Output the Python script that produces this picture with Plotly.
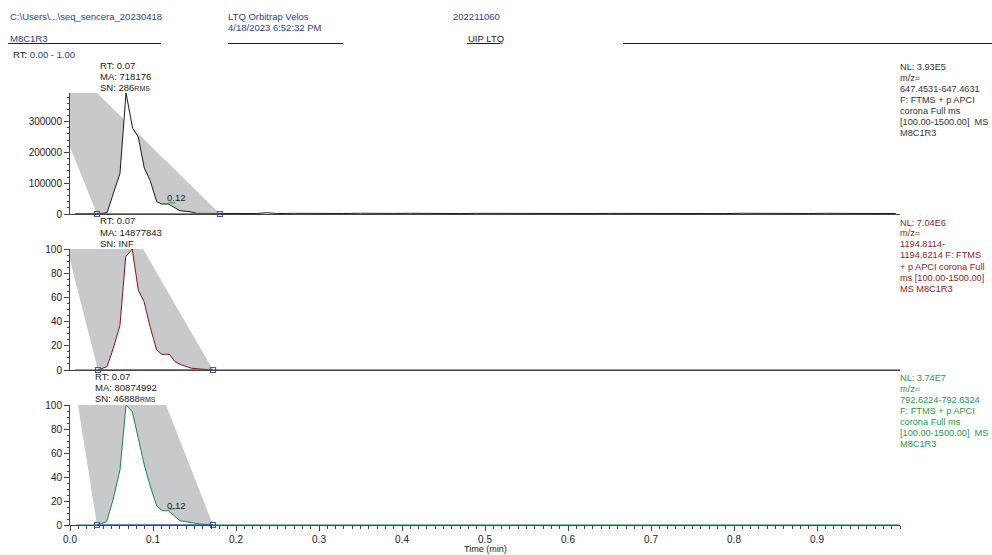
import plotly.graph_objects as go

# ---------------- data ----------------
# Panel 1: m/z 647.4531-647.4631 (absolute intensity)
p1_time = [0.006, 0.020, 0.0337, 0.0446, 0.0602, 0.0675, 0.0755, 0.0823, 0.0895, 0.0964,
           0.1045, 0.1105, 0.1184, 0.1325, 0.1446, 0.1527, 0.1807, 0.195, 0.21, 0.225,
           0.237, 0.25, 0.27, 0.29, 0.31, 0.33, 0.35, 0.37, 0.39, 0.41, 0.43, 0.45,
           0.47, 0.49, 0.51, 0.53, 0.55, 0.57, 0.59, 0.61, 0.63, 0.65, 0.67, 0.69,
           0.71, 0.73, 0.75, 0.77, 0.79, 0.81, 0.83, 0.85, 0.87, 0.89, 0.91, 0.93,
           0.95, 0.97, 0.995]
p1_int = [600, 900, 700, 4200, 132000, 393000, 278000, 250000, 149000, 110000,
          40000, 32500, 32500, 10700, 7500, 2000, 900, 1200, 1800, 1500,
          4200, 1600, 2200, 1400, 2000, 1700, 2400, 1500, 1900, 2300, 1600, 2000,
          1500, 2100, 1800, 1400, 2200, 1900, 1500, 2300, 1700, 2000, 1600, 2200,
          1800, 1500, 2100, 1900, 1400, 2300, 1800, 1600, 2000, 1700, 2200, 1500,
          1900, 1600, 1800]

# Panel 2: m/z 1194.8114-1194.8214 (relative abundance)
p2_time = [0.006, 0.0337, 0.0446, 0.0522, 0.0602, 0.0671, 0.0750, 0.0823, 0.0892, 0.0964,
           0.1045, 0.1105, 0.1197, 0.1265, 0.1346, 0.1466, 0.1723, 1.0]
p2_int = [0, 0, 2.8, 18, 37, 93.6, 100, 66, 56.5, 36, 16.5, 13, 13, 6.9, 4.1, 1.4, 0, 0]

# Panel 3: m/z 792.6224-792.6324 (relative abundance)
p3_time = [0.0072, 0.0341, 0.0442, 0.0522, 0.0602, 0.0675, 0.0751, 0.0895, 0.0964, 0.1045,
           0.1112, 0.1184, 0.1325, 0.1466, 0.1566, 0.1723, 1.0]
p3_int = [0, 0, 2.8, 22, 46, 100, 94.4, 50, 33, 15.8, 11.9, 11.9, 3.6, 1.9, 0.8, 0, 0]

# Integration regions (shaded) : corners (time, intensity)
p1_region_t = [-0.0262, 0.0325, 0.1807, 0.0325, -0.0262]
p1_region_y = [393000, 393000, 0, 0, 393000]
p2_region_t = [-0.0034, 0.088, 0.1723, 0.0337, -0.0034]
p2_region_y = [100, 100, 0, 0, 100]
p3_region_t = [0.0096, 0.1157, 0.1723, 0.0325, 0.0096]
p3_region_y = [100, 100, 0, 0, 100]

# Baselines of detected peaks
p1_base_t = [0.0325, 0.1807]
p2_base_t = [0.0337, 0.1723]
p3_base_t = [0.0325, 0.1723]

# Minor apex markers (RT 0.12)
p1_apex_t = [0.1184, 0.1270]
p1_apex_y = [36000, 36800]
p3_apex_t = [0.1190, 0.1270]
p3_apex_y = [13.3, 13.6]

x_ticks = [0.0, 0.1, 0.2, 0.3, 0.4, 0.5, 0.6, 0.7, 0.8, 0.9]
x_ticktext = ["0.0", "0.1", "0.2", "0.3", "0.4", "0.5", "0.6", "0.7", "0.8", "0.9"]
p1_yticks = [0, 100000, 200000, 300000]
rel_yticks = [0, 20, 40, 60, 80, 100]

# ---------------- styling ----------------
W, H = 992, 555
FONT = "Arial, Liberation Sans, sans-serif"
GRAY = "#c8c9cb"
BLUE = "#3b5caa"
HEAD = "#2c3d8c"
C1, C2, C3 = "#1a1a1a", "#7f1416", "#17874a"
T1, T2, T3 = "#333333", "#8c2323", "#22994d"
APEX = "#33b050"


def px(x):
    return x / W


def py(y):
    return 1 - y / H


fig = go.Figure()

panels = [
    (p1_time, p1_int, p1_region_t, p1_region_y, p1_base_t, C1, "x", "y"),
    (p2_time, p2_int, p2_region_t, p2_region_y, p2_base_t, C2, "x2", "y2"),
    (p3_time, p3_int, p3_region_t, p3_region_y, p3_base_t, C3, "x3", "y3"),
]

for t, v, rt, ry, bt, col, xa, ya in panels:
    fig.add_trace(go.Scatter(x=rt, y=ry, mode="lines", fill="toself", fillcolor=GRAY,
                             line=dict(width=0, color=GRAY), xaxis=xa, yaxis=ya,
                             hoverinfo="skip", showlegend=False))
    fig.add_trace(go.Scatter(x=t, y=v, mode="lines", fill="tozeroy", fillcolor="white",
                             line=dict(width=1, color=col), xaxis=xa, yaxis=ya,
                             showlegend=False))
    fig.add_trace(go.Scatter(x=bt, y=[0, 0], mode="lines+markers",
                             line=dict(width=1.6, color=BLUE),
                             marker=dict(symbol="square-open", size=5, color=BLUE,
                                         line=dict(width=1.2, color=BLUE)),
                             xaxis=xa, yaxis=ya, showlegend=False, cliponaxis=False))

fig.add_trace(go.Scatter(x=p1_apex_t, y=p1_apex_y, mode="lines", line=dict(width=1.2, color=APEX),
                         xaxis="x", yaxis="y", showlegend=False))
fig.add_trace(go.Scatter(x=p3_apex_t, y=p3_apex_y, mode="lines", line=dict(width=1.2, color=APEX),
                         xaxis="x3", yaxis="y3", showlegend=False))

xdom = [px(70), px(900)]
doms = [[py(214), py(93)], [py(370), py(249)], [py(525), py(405)]]

axcommon = dict(showgrid=False, zeroline=False, showline=True, linecolor="#444", linewidth=1,
                automargin=False)
tickfont = dict(family=FONT, size=10, color="#222")

layout = dict(
    width=W, height=H, autosize=False,
    margin=dict(l=0, r=0, t=0, b=0, pad=0),
    paper_bgcolor="white", plot_bgcolor="white",
    font=dict(family=FONT, size=10, color="#222"),
    showlegend=False,
)

# x axes
layout["xaxis"] = dict(domain=xdom, range=[0, 1.0], anchor="y", showticklabels=False,
                       ticks="", **axcommon)
layout["xaxis2"] = dict(domain=xdom, range=[0, 1.0], anchor="y2", showticklabels=False,
                        ticks="", matches="x", **axcommon)
layout["xaxis3"] = dict(domain=xdom, range=[0, 1.0], anchor="y3", matches="x",
                        tickmode="array", tickvals=x_ticks, ticktext=x_ticktext,
                        ticks="outside", ticklen=5, tickcolor="#444", tickfont=tickfont,
                        minor=dict(ticks="outside", ticklen=2.5, dtick=0.01, tick0=0,
                                   tickcolor="#444"),
                        **axcommon)
# y axes
layout["yaxis"] = dict(domain=doms[0], range=[0, 393000], anchor="x",
                       tickmode="array", tickvals=p1_yticks, tickformat="d",
                       ticks="outside", ticklen=5, tickcolor="#444", tickfont=tickfont,
                       minor=dict(ticks="outside", ticklen=2.5, dtick=20000, tick0=0,
                                  tickcolor="#444"),
                       **axcommon)
for name, anc, dom in [("yaxis2", "x2", doms[1]), ("yaxis3", "x3", doms[2])]:
    layout[name] = dict(domain=dom, range=[0, 100], anchor=anc,
                        tickmode="array", tickvals=rel_yticks,
                        ticks="outside", ticklen=5, tickcolor="#444", tickfont=tickfont,
                        minor=dict(ticks="outside", ticklen=2.5, dtick=5, tick0=0,
                                   tickcolor="#444"),
                        **axcommon)

fig.update_layout(**layout)

annots = []


def txt(x, y, s, color="#222", size=9.5, xanchor="left"):
    annots.append(dict(x=px(x), y=py(y), xref="paper", yref="paper", text=s,
                       showarrow=False, xanchor=xanchor, yanchor="middle",
                       font=dict(family=FONT, size=size, color=color)))


# header
txt(8, 16.5, "C:\\Users\\...\\seq_sencera_20230418", HEAD)
txt(8, 38.5, "M8C1R3", HEAD)
txt(226, 16.5, "LTQ Orbitrap Velos", HEAD)
txt(226, 27.3, "4/18/2023 6:52:32 PM", HEAD)
txt(451, 16.5, "202211060", HEAD)
txt(466, 38.5, "UIP LTQ", "#222")
txt(11, 54, "RT: <span style='color:%s'>0.00 - 1.00</span>" % HEAD, "#222")

rms = "<span style='font-size:7px'>RMS</span>"
# peak labels
for i, s in enumerate(["RT: 0.07", "MA: 718176", "SN: 286" + rms]):
    txt(98, 65 + 11.2 * i, s)
for i, s in enumerate(["RT: 0.07", "MA: 14877843", "SN: INF"]):
    txt(98, 221 + 11.2 * i, s)
for i, s in enumerate(["RT: 0.07", "MA: 80874992", "SN: 46888" + rms]):
    txt(93, 376 + 11.2 * i, s)
txt(165, 197.5, "0.12")
txt(165, 505, "0.12")

# right side labels
r1 = ["NL: 3.93E5", "m/z=", "647.4531-647.4631", "F: FTMS + p APCI", "corona Full ms",
      "[100.00-1500.00]  MS", "M8C1R3"]
r2 = ["NL: 7.04E6", "m/z=", "1194.8114-", "1194.8214 F: FTMS", "+ p APCI corona Full",
      "ms [100.00-1500.00]", "MS M8C1R3"]
r3 = ["NL: 3.74E7", "m/z=", "792.6224-792.6324", "F: FTMS + p APCI", "corona Full ms",
      "[100.00-1500.00]  MS", "M8C1R3"]
for i, s in enumerate(r1):
    txt(898, 67 + 11 * i, s, T1, 9.2)
for i, s in enumerate(r2):
    txt(898, 222.5 + 11 * i, s, T2, 9.2)
for i, s in enumerate(r3):
    txt(898, 377.5 + 11 * i, s, T3, 9.2)

txt(485, 549, "Time (min)", "#222", 9, xanchor="center")

shapes = []
for x0, x1 in [(8, 161), (228, 343), (467, 500), (623, 992)]:
    shapes.append(dict(type="line", xref="paper", yref="paper", x0=px(x0), x1=px(x1),
                       y0=py(43.5), y1=py(43.5), line=dict(color="#222", width=1)))

fig.update_layout(annotations=annots, shapes=shapes)

fig.write_html("out.html",
               config={"responsive": False, "displayModeBar": False},
               post_script="document.body.style.margin='0';document.body.style.overflow='hidden';")
